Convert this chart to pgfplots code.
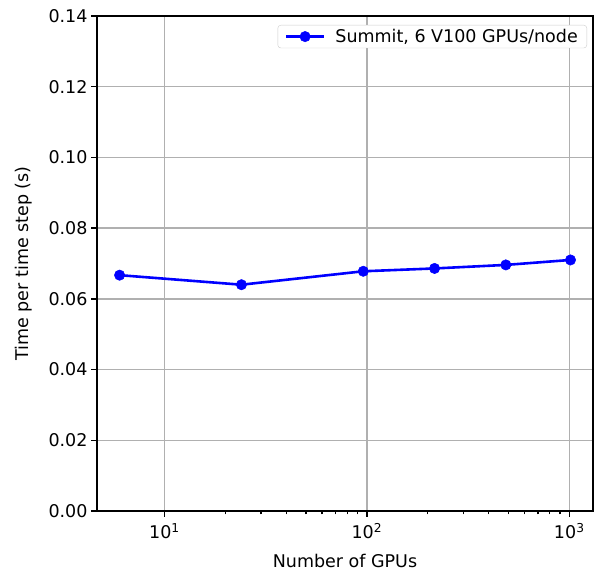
\documentclass[border=0pt]{standalone}
\usepackage{pgfplots}
\pgfplotsset{compat=1.18}
\usepackage{fontspec}
\setmainfont{DejaVu Sans}
\begin{document}
\begin{tikzpicture}
\begin{axis}[
  name=ax,
  scale only axis,
  width=496pt, height=495pt,
  xmode=log,
  xmin=4.64, xmax=1310,
  ymin=0, ymax=0.14,
  ytick={0,0.02,0.04,0.06,0.08,0.10,0.12,0.14},
  yticklabel style={/pgf/number format/.cd, fixed, fixed zerofill, precision=2},
  xtick={10,100,1000},
  xticklabels={10\textsuperscript{1},10\textsuperscript{2},10\textsuperscript{3}},
  xticklabel style={yshift=-3pt},
  /pgf/number format/assume math mode=true,
  tick label style={font=\fontsize{17.5}{20}\selectfont},
  label style={font=\fontsize{17.5}{20}\selectfont},
  xlabel={Number of GPUs},
  ylabel={Time per time step (s)},
  xlabel shift=8pt,
  ylabel shift=9pt,
  grid=major,
  major grid style={color=black!31, line width=1.4pt},
  tick align=outside,
  tick pos=left,
  major tick length=6pt,
  minor tick length=3.5pt,
  every tick/.style={black, line width=1.3pt},
  axis line style={line width=1.4pt},
  legend style={font=\fontsize{17.5}{20}\selectfont, draw=black!20, rounded corners=3pt, at={(1,1)}, anchor=north east, xshift=-6pt, yshift=-9pt, inner xsep=7pt, inner ysep=2pt,
    /tikz/every odd column/.append style={column sep=8pt}},
  legend cell align=left,
  legend image code/.code={\draw[mark repeat=2,mark phase=2,#1,line width=2.6pt] plot coordinates {(0pt,0pt) (19pt,0pt) (38pt,0pt)};},
]
\addplot[color=blue, line width=2.6pt, mark=*, mark size=5.2pt, mark options={fill=blue, draw=blue, line width=0.5pt}]
coordinates {
(6,0.0667)
(24,0.0640)
(96,0.0678)
(216,0.0686)
(486,0.0696)
(1014,0.0710)
};
\addlegendentry{Summit, 6 V100 GPUs/node}
\end{axis}
\pgfresetboundingbox
\path ([shift={(-97pt,-61pt)}]ax.south west) rectangle ([shift={(2pt,16pt)}]ax.north east);
\end{tikzpicture}
\end{document}
